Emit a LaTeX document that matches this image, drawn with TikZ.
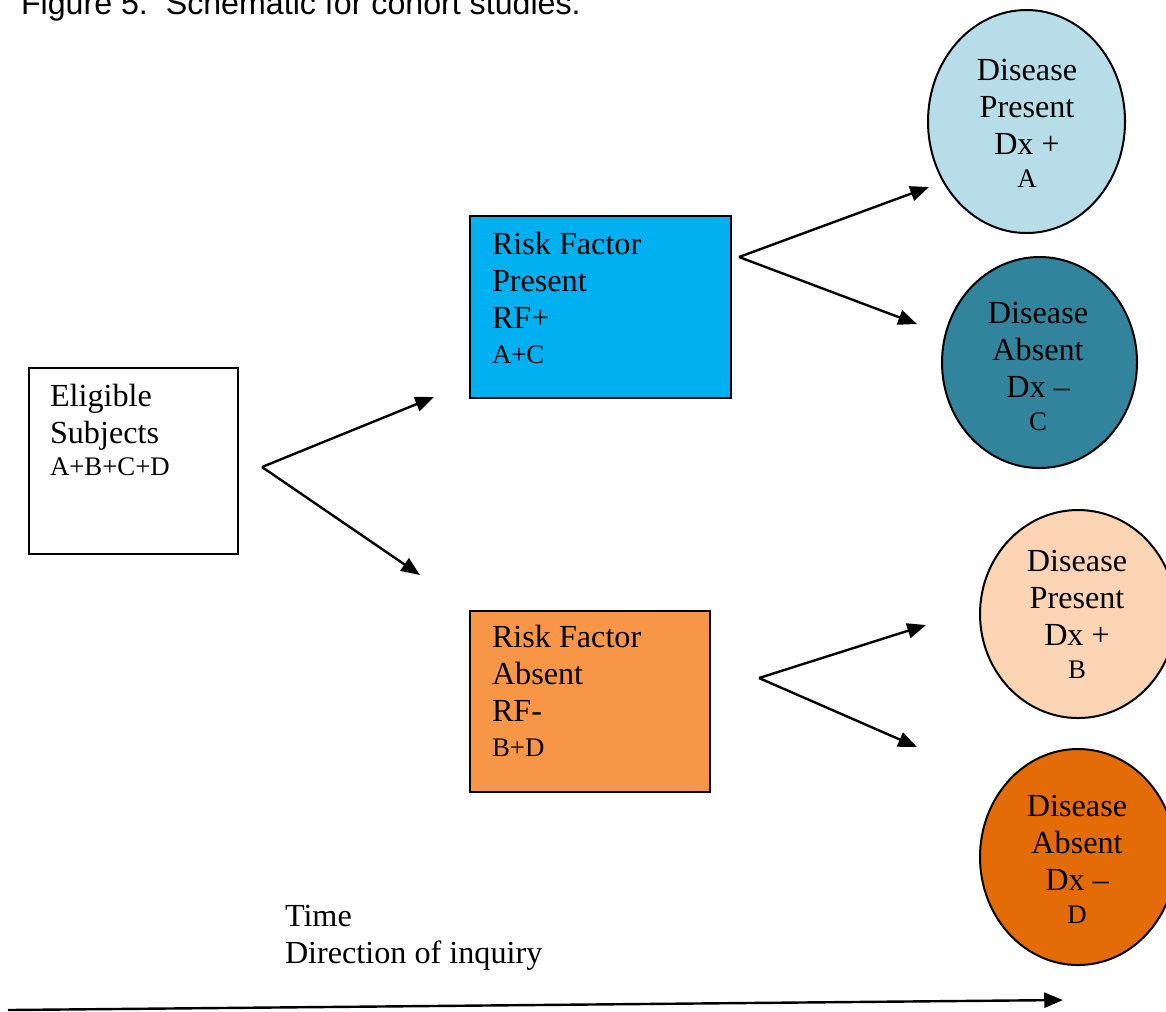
\documentclass[tikz,border=0pt]{standalone}
\usepackage{fontspec}
\setmainfont{Liberation Serif}
\newfontfamily\captionface{Liberation Sans}
\usetikzlibrary{arrows.meta,shapes.geometric}

\definecolor{rfpresent}{HTML}{00B0F0}
\definecolor{rfabsent}{HTML}{F79646}
\definecolor{dxpresentA}{HTML}{B7DDE8}
\definecolor{dxabsentC}{HTML}{31849B}
\definecolor{dxpresentB}{HTML}{FBD4B4}
\definecolor{dxabsentD}{HTML}{E36C09}

\newcommand{\pxunit}{0.373pt}
\newcommand{\bigtext}{\fontsize{12}{13.8}\selectfont}
\newcommand{\smalltext}{\fontsize{10}{11.5}\selectfont}

\begin{document}
\begin{tikzpicture}[x=0.373pt, y=-0.373pt, line width=0.75pt,
  frame/.style={draw=black, line width=0.75pt, rectangle, inner sep=0pt, anchor=north west},
  blob/.style={draw=black, line width=0.75pt, ellipse, inner sep=0pt},
  % texts are placed by the baseline of their last line
  boxtext/.style={align=left, inner sep=0pt, anchor=base west, font=\bigtext},
  blobtext/.style={align=center, inner sep=0pt, anchor=base, font=\bigtext},
  flow/.style={-{Triangle[length=7pt,width=5.6pt]}, line width=0.9pt},
]
\useasboundingbox (0,0) rectangle (1166,1011);
\clip (0,0) rectangle (1166,1011);

% caption (runs off the top edge)
\node[anchor=base west, inner sep=0pt, font=\captionface\fontsize{12}{13.8}\selectfont]
  (caption) at (20,14) {Figure 5.\ \ Schematic for cohort studies.};

% boxes
\node[frame, minimum width=209*\pxunit, minimum height=186*\pxunit] (elig) at (28,367) {};
\node[frame, fill=rfpresent, minimum width=261*\pxunit, minimum height=182*\pxunit] (rfp) at (469,215) {};
\node[frame, fill=rfabsent, minimum width=240*\pxunit, minimum height=181*\pxunit] (rfa) at (469,610) {};

\node[boxtext] (eligtext) at (49,475) {Eligible\\Subjects\\[-2pt]{\smalltext A+B+C+D}};
\node[boxtext] (rfptext) at (491,363) {Risk Factor\\Present\\RF+\\[-1pt]{\smalltext A+C}};
\node[boxtext] (rfatext) at (491,756) {Risk Factor\\Absent\\RF-\\[-1pt]{\smalltext B+D}};

% outcome ellipses
\node[blob, fill=dxpresentA, minimum width=197*\pxunit, minimum height=223*\pxunit] (dxa) at (1026.5,121.5) {};
\node[blob, fill=dxabsentC, minimum width=195*\pxunit, minimum height=211*\pxunit] (dxc) at (1039.5,362.5) {};
\node[blob, fill=dxpresentB, minimum width=196*\pxunit, minimum height=208*\pxunit] (dxb) at (1078,614) {};
\node[blob, fill=dxabsentD, minimum width=196*\pxunit, minimum height=216*\pxunit] (dxd) at (1078,857) {};

\node[blobtext] (dxatext) at (1027,187) {Disease\\Present\\Dx +\\[-1.5pt]{\smalltext A}};
\node[blobtext] (dxctext) at (1038,430) {Disease\\Absent\\Dx --\\[-1.5pt]{\smalltext C}};
\node[blobtext] (dxbtext) at (1077,678) {Disease\\Present\\Dx +\\[-1.5pt]{\smalltext B}};
\node[blobtext] (dxdtext) at (1077,923) {Disease\\Absent\\Dx --\\[-1.5pt]{\smalltext D}};

% branching arrows
\coordinate (forkE) at (262,467);
\coordinate (tipP) at (434,397);
\coordinate (tipA) at (420,575);
\draw[flow] (forkE) -- (tipP);
\draw[flow] (forkE) -- (tipA);

\coordinate (forkP) at (739,257);
\coordinate (tipPA) at (929,187);
\coordinate (tipPC) at (917,324);
\draw[flow] (forkP) -- (tipPA);
\draw[flow] (forkP) -- (tipPC);

\coordinate (forkA) at (759,678);
\coordinate (tipAB) at (926,625);
\coordinate (tipAD) at (917,747);
\draw[flow] (forkA) -- (tipAB);
\draw[flow] (forkA) -- (tipAD);

% time axis
\node[boxtext] (timetext) at (284,963) {Time\\Direction of inquiry};
\coordinate (timestart) at (8,1010);
\coordinate (timeend) at (1063,1000);
\draw[flow] (timestart) -- (timeend);
\end{tikzpicture}
\end{document}
